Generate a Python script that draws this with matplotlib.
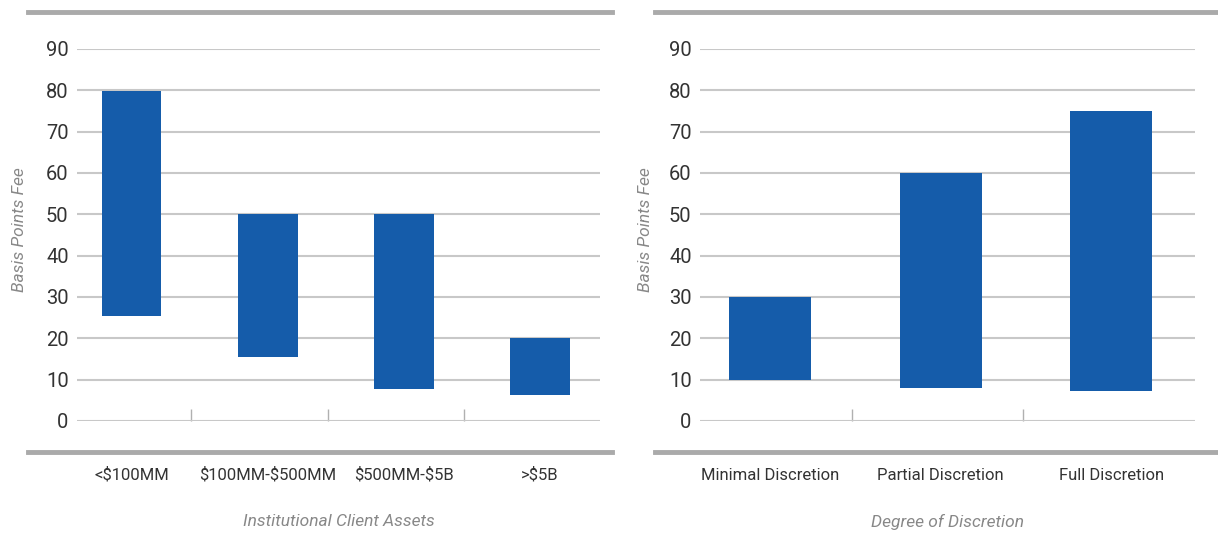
import matplotlib
matplotlib.use("Agg")
import matplotlib.pyplot as plt
from matplotlib.transforms import blended_transform_factory
from matplotlib.lines import Line2D

plt.rcParams['font.family'] = ['Roboto', 'DejaVu Sans']

# left chart: fee range by client assets
asset_cats = ['<\\$100MM', '\\$100MM-\\$500MM', '\\$500MM-\\$5B', '>\\$5B']
asset_low = [25.3, 15.4, 7.7, 6.3]
asset_high = [79.8, 50, 50, 20]

# right chart: fee range by discretion
disc_cats = ['Minimal Discretion', 'Partial Discretion', 'Full Discretion']
disc_low = [10, 8, 7.3]
disc_high = [30, 60, 75]

yticks = [0, 10, 20, 30, 40, 50, 60, 70, 80, 90]

BLUE = '#155caa'
GRID = '#c8c8c8'
RULE = '#aaaaaa'
TXT = '#333333'
TITLE = '#888888'

W, H = 1218, 537
fig = plt.figure(figsize=(W / 100, H / 100), dpi=100)


def px(x0, y0, x1, y1):
    # pixel box -> figure rect
    return [x0 / W, 1 - y1 / H, (x1 - x0) / W, (y1 - y0) / H]


def panel(rect, xlim, cats, low, high, width, title, ylab_x, sep_shift):
    ax = fig.add_axes(rect)
    xs = list(range(len(cats)))
    heights = [h - l for l, h in zip(low, high)]
    ax.bar(xs, heights, bottom=low, width=width, color=BLUE, zorder=3)
    ax.set_xlim(*xlim)
    ax.set_ylim(0, 90)
    ax.set_yticks(yticks)
    ax.yaxis.grid(True, color=GRID, linewidth=1.5, zorder=0)
    ax.set_axisbelow(True)
    for s in ax.spines.values():
        s.set_visible(False)
    ax.tick_params(axis='y', length=0, pad=6, labelsize=14.5, labelcolor=TXT)
    ax.set_xticks(xs)
    ax.set_xticklabels([])
    ax.tick_params(axis='x', which='major', length=0)
    ax.set_xticks([i + 0.5 - sep_shift for i in xs[:-1]], minor=True)
    ax.tick_params(axis='x', which='minor', direction='in', length=9,
                   width=1, color='#b0b0b0')
    tr = blended_transform_factory(ax.transData, fig.transFigure)
    for x, c in zip(xs, cats):
        ax.text(x, 1 - 475 / H, c, transform=tr, ha='center', va='center',
                fontsize=12, color=TXT)
    trx = blended_transform_factory(ax.transAxes, fig.transFigure)
    ax.text(0.5, 1 - 522 / H, title, transform=trx, ha='center', va='center',
            fontsize=12.5, color=TITLE, style='italic')
    fig.text(ylab_x / W, 1 - 230 / H, 'Basis Points Fee', rotation=90,
             ha='center', va='center', fontsize=12.5, color=TITLE,
             style='italic')
    return ax


panel(px(77, 49, 600, 421), (-0.40, 3.44), asset_cats, asset_low, asset_high,
      0.44, 'Institutional Client Assets', 20, 0.06)
panel(px(700, 49, 1195, 421), (-0.41, 2.49), disc_cats, disc_low, disc_high,
      0.48, 'Degree of Discretion', 645, 0.02)

# thick gray rules above and below each panel
for x0, x1 in [(28, 612), (655, 1218)]:
    for y in (12, 452):
        fig.add_artist(Line2D([x0 / W, x1 / W], [1 - y / H, 1 - y / H],
                              color=RULE, linewidth=3.5,
                              transform=fig.transFigure))

fig.savefig('out.png', dpi=100)
